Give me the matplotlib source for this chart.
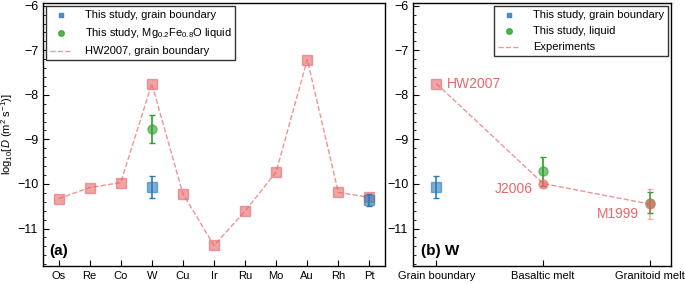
import matplotlib.pyplot as plt
from matplotlib.ticker import MultipleLocator
import numpy as np

plt.rcParams['font.family'] = ['Liberation Sans', 'DejaVu Sans']
plt.rcParams['font.size'] = 8
plt.rcParams['mathtext.fontset'] = 'custom'
plt.rcParams['mathtext.rm'] = 'Liberation Sans'
plt.rcParams['mathtext.it'] = 'Liberation Sans:italic'

# panel (a) data
elements = ["Os", "Re", "Co", "W", "Cu", "Ir", "Ru", "Mo", "Au", "Rh", "Pt"]
hw2007 = [-10.33, -10.08, -9.97, -7.75, -10.22, -11.38, -10.61, -9.73, -7.21, -10.19, -10.30]
gb_elem = ["W", "Pt"]
gb_val = [-10.07, -10.36]
gb_err = [0.24, 0.13]
liq_elem = ["W"]
liq_val = [-8.76]
liq_err = [0.31]

# panel (b) data
settings = ["Grain boundary", "Basaltic melt", "Granitoid melt"]
exp_val = [-7.75, -9.99, -10.45]
exp_err = [0.0, 0.04, 0.34]
exp_names = ["HW2007", "J2006", "M1999"]
b_gb_val = [-10.07]
b_gb_err = [0.24]
b_liq_val = [-9.72, -10.42]
b_liq_err = [0.32, 0.23]

RED = '#e8676b'
BLUE = '#2a7ab8'
GREEN = '#2ca02c'

fig = plt.figure(figsize=(6.85, 2.84), dpi=100)
ax1 = fig.add_axes([43/685, 1-266/284, 342/685, 263/284])
ax2 = fig.add_axes([413/685, 1-266/284, 258/685, 263/284])

def style(ax):
    ax.set_ylim(-11.84, -5.94)
    ax.yaxis.set_major_locator(MultipleLocator(1))
    ax.yaxis.set_minor_locator(MultipleLocator(0.2))
    ax.tick_params(direction='in', which='both', top=False, right=False)
    ax.tick_params(which='major', length=4, labelsize=8)
    ax.tick_params(axis='y', labelsize=9)
    ax.tick_params(which='minor', length=2.5)
    for s in ax.spines.values():
        s.set_linewidth(1.0)

def legend(ax, handles, labels, loc):
    ax.legend(handles, labels, loc=loc, fancybox=False, edgecolor='#333333',
              framealpha=1, fontsize=8, borderaxespad=0.3, handlelength=2.0,
              handletextpad=1.1, labelspacing=0.55, borderpad=0.35)

# ---- (a)
x = np.arange(len(elements))
h_hw, = ax1.plot(x, hw2007, ls='--', color=RED, alpha=0.7, lw=1.0, zorder=1)
ax1.plot(x, hw2007, ls='none', marker='s', ms=6.5, color=RED, alpha=0.6, zorder=2)
xg = [elements.index(e) for e in gb_elem]
ax1.errorbar(xg, gb_val, yerr=gb_err, fmt='none', ecolor=BLUE, capsize=2.5, elinewidth=1.2, zorder=3)
ax1.plot(xg, gb_val, ls='none', marker='s', ms=6.5, color=BLUE, alpha=0.6, zorder=4)
xl = [elements.index(e) for e in liq_elem]
ax1.errorbar(xl, liq_val, yerr=liq_err, fmt='none', ecolor=GREEN, capsize=2.5, elinewidth=1.2, zorder=3)
ax1.plot(xl, liq_val, ls='none', marker='o', ms=6.5, color=GREEN, alpha=0.6, zorder=4)
h_gb = ax1.scatter([], [], marker='s', s=12, color=BLUE, alpha=0.8)
h_lq = ax1.scatter([], [], marker='o', s=16, color=GREEN, alpha=0.8)
legend(ax1, [h_gb, h_lq, h_hw],
       ['This study, grain boundary', 'This study, Mg$_{0.2}$Fe$_{0.8}$O liquid', 'HW2007, grain boundary'],
       'upper left')
ax1.set_xticks(x)
ax1.set_xticklabels(elements)
ax1.set_xlim(-0.5, 10.5)
style(ax1)
ax1.set_ylabel('log$_{10}$[$D$ (m$^2$ s$^{-1}$)]', labelpad=1, fontsize=8)
ax1.text(0.018, 0.04, '(a)', transform=ax1.transAxes, fontsize=11, fontweight='bold')

# ---- (b)
xb = np.arange(len(settings))
h_exp, = ax2.plot(xb, exp_val, ls='--', color=RED, alpha=0.7, lw=1.0, zorder=1)
ax2.plot(xb[:1], exp_val[:1], ls='none', marker='s', ms=6.5, color=RED, alpha=0.6, zorder=2)
ax2.errorbar(xb[0], b_gb_val[0], yerr=b_gb_err[0], fmt='none', ecolor=BLUE, capsize=2.5, elinewidth=1.2)
ax2.plot(xb[:1], b_gb_val, ls='none', marker='s', ms=6.5, color=BLUE, alpha=0.6, zorder=4)
ax2.errorbar(xb[1:], b_liq_val, yerr=b_liq_err, fmt='none', ecolor=GREEN, capsize=2.5, elinewidth=1.2, zorder=3)
ax2.plot(xb[1:], b_liq_val, ls='none', marker='o', ms=6.5, color=GREEN, alpha=0.6, zorder=4)
ax2.errorbar(xb[1:], exp_val[1:], yerr=exp_err[1:], fmt='none', ecolor=RED, alpha=0.5, capsize=2.5, elinewidth=1.2, zorder=5)
ax2.plot(xb[1:], exp_val[1:], ls='none', marker='o', ms=6.5, color=RED, alpha=0.6, zorder=5)
ax2.text(xb[0] + 0.1, exp_val[0], exp_names[0], color=RED, fontsize=10, va='center', ha='left')
ax2.text(xb[1] - 0.1, exp_val[1] - 0.12, exp_names[1], color=RED, fontsize=10, va='center', ha='right')
ax2.text(xb[2] - 0.1, exp_val[2] - 0.22, exp_names[2], color=RED, fontsize=10, va='center', ha='right')
h_gb2 = ax2.scatter([], [], marker='s', s=12, color=BLUE, alpha=0.8)
h_lq2 = ax2.scatter([], [], marker='o', s=16, color=GREEN, alpha=0.8)
legend(ax2, [h_gb2, h_lq2, h_exp], ['This study, grain boundary', 'This study, liquid', 'Experiments'],
       'upper right')
ax2.set_xticks(xb)
ax2.set_xticklabels(settings)
ax2.set_xlim(-0.22, 2.2)
style(ax2)
ax2.text(0.03, 0.04, '(b) W', transform=ax2.transAxes, fontsize=11, fontweight='bold')

fig.savefig('out.png', dpi=100)
